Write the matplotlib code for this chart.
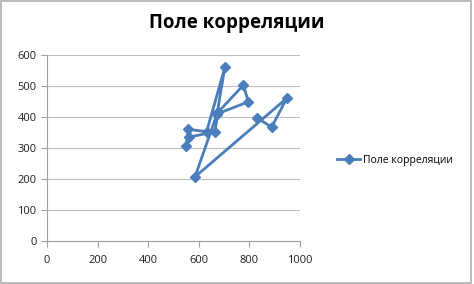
import matplotlib
matplotlib.use('Agg')
import matplotlib.pyplot as plt

# Поле корреляции: x - фактор, y - результат
x_vals = [829, 888, 947, 585, 672, 703, 631, 559, 550, 562, 664, 676, 776, 796, 672]
y_vals = [398, 367, 460, 207, 410, 560, 353, 360, 308, 335, 353, 415, 503, 449, 410]
series_name = 'Поле корреляции'
title = 'Поле корреляции'

plt.rcParams['font.family'] = ['Open Sans', 'DejaVu Sans']

fig = plt.figure(figsize=(4.74, 2.84), dpi=100)
ax = fig.add_axes([47 / 474, 1 - 241 / 284, 253 / 474, 186 / 284])

color = '#4A7EBB'
ax.plot(x_vals, y_vals, color=color, lw=2.0, marker='D', ms=5,
        label=series_name)

ax.set_xlim(0, 1000)
ax.set_ylim(0, 600)
ax.set_xticks(range(0, 1001, 200))
ax.set_yticks(range(0, 601, 100))
ax.yaxis.grid(True, color='#BEBEBE', lw=0.8)
ax.set_axisbelow(True)
for s in ['top', 'right']:
    ax.spines[s].set_visible(False)
for s in ['left', 'bottom']:
    ax.spines[s].set_color('#A0A0A0')
ax.tick_params(colors='#A0A0A0', labelcolor='#202020', labelsize=8,
               length=4, direction='out')
ax.tick_params(axis='x', pad=6)

fig.text(0.5, 0.92, title, ha='center', va='center', fontsize=13.5,
         fontweight='bold')

leg = fig.legend(handles=ax.get_lines(), labels=[series_name],
                 loc='center left', bbox_to_anchor=(328 / 474, 1 - 160 / 284),
                 frameon=False, fontsize=7.5, handlelength=2.2,
                 handletextpad=0.3)

# рамка вокруг диаграммы
fig.patches.append(plt.Rectangle((0.003, 0.005), 0.99, 0.99,
                                 transform=fig.transFigure, fill=False,
                                 edgecolor='#B0B0B0', lw=1.2))

fig.savefig('out.png', dpi=100)
